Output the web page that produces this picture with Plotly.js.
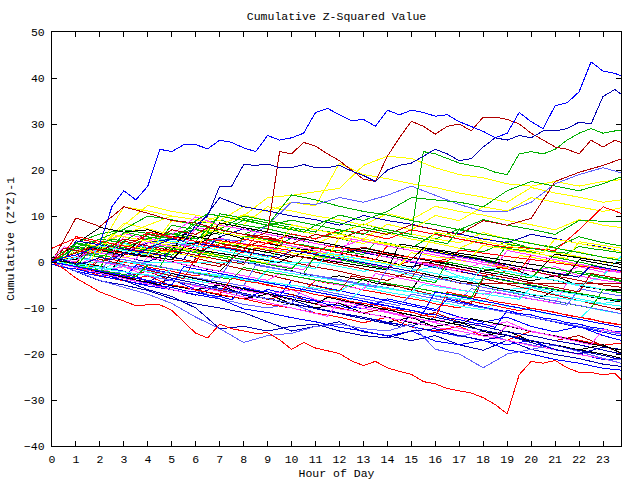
<!DOCTYPE html>
<html>
<head>
<meta charset="utf-8">
<script src="https://cdn.plot.ly/plotly-3.0.1.min.js"></script>
<style>
html,body{margin:0;padding:0;background:#fff}
#chart{width:640px;height:480px}
#chart .scatterlayer path.js-line{shape-rendering:crispEdges}
</style>
</head>
<body>
<div id="chart"></div>
<script>
// ---- x grids (hour of day) ----
const hoursHalf = [0,0.5,1,1.5,2,2.5,3,3.5,4,4.5,5,5.5,6,6.5,7,7.5,8,8.5,9,9.5,10,10.5,11,11.5,12,12.5,13,13.5,14,14.5,15,15.5,16,16.5,17,17.5,18,18.5,19,19.5,20,20.5,21,21.5,22,22.5,23,23.5,23.75];
const hoursFull = [0,1,2,3,4,5,6,7,8,9,10,11,12,13,14,15,16,17,18,19,20,21,22,23,23.75];
const xTickVals = [0,1,2,3,4,5,6,7,8,9,10,11,12,13,14,15,16,17,18,19,20,21,22,23];
const yTickVals = [-40,-30,-20,-10,0,10,20,30,40,50];

// ---- half-hour series: prominent lines ----
const L1 = [0,1,1.5,2.5,4,12,15.5,13.5,16.5,24.5, 24,25.5,25.5,24.6,26.5,26,24.8,24,27.5,26.5, 27,28,32.5,33.4,32,30.7,31,29.5,33,32, 33,32.5,31.7,32,30.5,29.5,28.4,27,28,32.5, 30.5,29,34,34.6,37,43.5,41.5,41, 40.5];
const L2 = [0,1,2,3,2.5,3.5,5,4.5,6,5.5, 7,6.5,6,7.5,7,6.5,6,5.5,6.5,24, 23.5,26,25.2,23.5,22,20,18,17.5,23,27, 30.6,29.5,27.8,29.5,30,28.5,31.5,31.5,31,30, 28,26.5,25,24.5,23.5,26.5,25,26.5, 26];
const L3 = [0,0.5,-0.5,0,1,0.5,2,1.5,3,4, 5,4.5,8,10,16.5,16.5,21.2,21,21.3,20.5, 20.5,21.2,20.5,20.5,21,19.8,18.8,17.5,20,21, 21.5,23,24.5,23.5,22,22.5,25,27,26.5,27.5, 27,28.5,28.5,29,30.4,30,36,37.5, 36.5];
const L4 = [0,1.5,3,2.5,4,5,4.5,6,5.5,5, 7,6.5,9,10.5,10,9.5,9,8.5,8,7.5, 7,6.5,8,7.5,7,6.5,6,7.5,7,6.5, 6,24,23.5,22.5,21.5,21,20.5,19.5,19,23.5, 24,23.5,24.5,26.5,28,29,28,28.5, 28.5];
const B1 = [0,-1.5,-3.5,-5,-6.5,-7.5,-8.5,-9.5,-9.3,-9.3, -10.5,-13,-15.5,-16.5,-13.5,-14.5,-15,-15.5,-15.4,-16.9, -19,-17.5,-18.7,-19.3,-19.9,-21.5,-22.5,-21.6,-23,-23.8, -24.4,-26,-26.5,-27.5,-28,-28.5,-29.5,-31,-33,-24.5, -21.6,-22,-21.4,-23,-24,-24,-24.5,-24.2, -25.6];

// ---- half-hour series: the mass ----
const P1 = [0,-0.6,-1,-1.4,1,0.6,0,-0.4,-1.1,-1.5, -2,-2.6,-3,-2.5,-3.1,-3.5,-4,-4.4,-5.1,-5.5, -6,-6.4,-4,-4.6,-5,-5.4,-6.1,-6.5,-7,-7.6, -8,-8.4,-9.1,-9.5,-10,-8.5,-9.1,-9.5,-10,-10.6, -10,-10.5,-11.1,-11.5,-12,-12.6,-13,-13.4, -13.7];
const P2 = [1,0.6,4.2,3.7,3.4,3.1,2.6,2.1,1.8,3.4, 3,2.5,2.2,1.9,1.4,0.9,5.6,5.3,4.8,4.3, 4,3.7,3.2,2.7,2.4,2.1,1.6,4.2,3.8,3.3, 3,2.7,2.2,1.7,1.4,1.1,0.6,0.1,3.8,3.5, 3,2.5,2.2,1.9,3.4,2.9,2.6,2.3, 2];
const P3 = [0,-0.6,-1.1,-1.6,-2.2,-2.8,-3.3,-0.8,-1.4,-2, -2.5,-3,-3.6,-4.2,-4.7,-5.2,-5.8,-6.4,-6.9,-7.4, -4,-4.6,-5.1,-5.6,-6.2,-6.8,-7.3,-7.8,-8.4,-9, -9.5,-10,-10.6,-8.1,-8.7,-9.3,-9.8,-10.3,-10.9,-11.5, -12,-12.5,-13.1,-13.7,-14.2,-14.7,-15.3,-15.9, -16.1];
const P4 = [0.5,3.3,2.9,2.4,2,1.5,1.1,0.6,4.2,3.7, 3.3,2.8,2.4,1.9,1.5,1,0.6,0.1,-0.3,-0.8, -1.2,-1.7,1.4,0.9,0.5,0,-0.4,-0.9,-1.3,0.6, 0.2,-0.3,-0.7,-1.2,-1.6,-2.1,-2.5,-3,-3.4,-3.9, 1,0.6,0.1,-0.3,-0.8,-1.2,-1.7,-2.1, -2.4];
const P5 = [0,-0.4,-1.1,-1.5,-1.9,-0.5,-1.1,-1.4,-2.1,-2.5, -3,-3.4,-4.1,-4.5,-2.5,-3.1,-3.5,-3.9,-4.6,-5, -5.4,-6.1,-6.5,-7,-7.4,-8.1,-5.5,-6,-6.6,-7, -7.4,-8.1,-8.5,-9,-9.6,-10,-10.4,-9,-9.6,-10, -10.4,-11.1,-11.5,-12,-12.4,-10,-10.6,-11, -11.3];
const P6 = [0,-0.3,-0.9,3.8,3.3,3.1,2.5,2.2,1.7,1.4, 3,2.7,2.1,1.8,1.3,1,0.5,0.2,-0.3,3.4, 3.1,2.5,2.2,1.7,1.4,0.9,0.6,0.1,-0.2,-0.7, 2,1.7,1.1,0.8,0.3,0,-0.5,-0.8,-1.3,1.4, 1.1,0.5,0.2,-0.3,-0.6,-1.1,-1.4,-1.9, -2];
const P7 = [1,0.4,0.1,-0.6,-0.9,-1.6,2,1.4,1.1,0.4, 0.1,-0.6,-0.9,-1.6,-2,0.5,-0.1,-0.4,-1.1,-1.5, -1.9,-2.6,-3,-3.4,-3,-3.6,-3.9,-4.6,-5,-5.4, -6.1,-2.5,-3.1,-3.4,-4.1,-4.5,-4.9,-5.6,-6,-6.4, -7.1,-7.5,-6,-6.6,-6.9,-7.6,-8,-8.4, -8.7];
const P8 = [0,-0.6,-1.2,-1.8,0.6,0,-0.6,-1.2,-1.8,-2.4, -3,-3.6,0.8,0.2,-0.4,-1,-1.6,-2.2,-2.8,-3.4, -4,-4.6,-5.2,-5.8,-6.4,-3,-3.6,-4.2,-4.8,-5.4, -6,-6.6,-7.2,-7.8,-8.4,-9,-3.6,-4.2,-4.8,-5.4, -6,-6.6,-7.2,-7.8,-8.4,-9,-9.6,-10.2, -10.5];
const P9 = [0,-0.5,-1.1,-1.7,-2.2,-2.7,-3.3,-3.9,-4.4,-3, -3.5,-4.1,-4.6,-5.2,-5.7,-6.3,-6.8,-7.4,-7.9,-8.5, -9,-9.6,-10.1,-10.7,-11.2,-11.8,-12.3,-12.9,-13.4,-14, -11.5,-12.1,-12.6,-13.2,-13.7,-14.3,-14.8,-15.4,-15.9,-16.5, -17,-17.6,-18.1,-18.7,-19.2,-19.8,-20.3,-20.9, -21.1];
const P10 = [0,-0.4,1.1,0.6,0.2,-0.3,-0.7,-1.2,-1.6,-2.1, -2.5,-3,-3.4,-3.9,-4.3,-4.8,-5.2,-0.7,-1.1,-1.6, -2,-2.5,-2.9,-3.4,-3.8,-4.3,-4.7,-5.2,-5.6,-6.1, -6.5,-7,-7.4,-7.9,-8.3,-5.8,-6.2,-6.7,-7.1,-7.6, -8,-8.5,-8.9,-9.4,-5.8,-6.3,-6.7,-7.2, -7.4];
const P11 = [0.5,0.2,-0.2,3,2.6,2.3,1.9,1.6,1.2,0.9, 0.5,0.2,-0.2,5,4.6,4.3,3.9,3.6,3.2,2.9, 2.5,2.2,1.8,3.5,3.1,2.8,2.4,2.1,1.7,1.4, 1,0.7,0.3,0,2.6,2.3,1.9,1.6,1.2,0.9, 0.5,0.2,-0.2,-0.5,-0.9,-1.2,-1.6,-1.9, -2.1];
const P12 = [0.5,0,-0.5,-1,-1.5,4,3.5,3,2.5,2, 1.5,3,2.5,2,1.5,1,0.5,0,-0.5,-1, -1.5,1,0.5,0,-0.5,-1,-1.5,-2,-2.5,-3, -3.5,-4,-4.5,0,-0.5,-1,-1.5,-2,-2.5,-3, -3.5,-1,-1.5,-2,-2.5,-3,-3.5,-4, -4.2];
const P13 = [-0.5,-1.2,-1.5,-2.2,-2.5,-3.2,-3.5,-4.2,-4.5,-5.2, -5.5,-6.2,-6.5,-7.2,-7.5,-8.2,-5.5,-6.2,-6.5,-7.2, -7.5,-8.2,-8.5,-9.2,-9.5,-10.2,-8.5,-9.2,-9.5,-10.2, -10.5,-11.2,-11.5,-12.2,-12.5,-13.2,-13.5,-14.2,-10.5,-11.2, -11.5,-12.2,-12.5,-13.2,-13.5,-14.2,-14.5,-15.2, -15.2];
const P14 = [0,-0.5,-1,0.5,0,-0.5,-1,-1.5,1,0.5, 0,-0.5,-1,-1.5,-2,-2.5,-3,-3.5,-4,-2.5, -3,-3.5,-4,-4.5,-5,-5.5,-6,-2.5,-3,-3.5, -4,-4.5,-5,-5.5,-6,-6.5,-7,-6.5,-7,-7.5, -8,-8.5,-9,-4.5,-5,-5.5,-6,-6.5, -6.7];
const P15 = [0.5,0.1,-0.3,-0.7,-1.1,-1.5,0.1,-0.3,-0.7,-1.1, -1.5,-1.9,-2.3,-2.7,-3.1,-3.5,-3.9,-4.3,-1.7,-2.1, -2.5,-2.9,-3.3,-3.7,-4.1,-4.5,-4.9,-5.3,-5.7,-6.1, -6.5,-4.9,-5.3,-5.7,-6.1,-6.5,-6.9,-7.3,-7.7,-8.1, -5.5,-5.9,-6.3,-6.7,-7.1,-7.5,-7.9,-8.3, -8.5];
const P16 = [0,-0.4,-0.8,-1.2,4.4,4,3.6,3.2,2.8,2.4, 2,1.6,1.2,0.8,4.4,4,3.6,3.2,2.8,2.4, 2,1.6,1.2,0.8,5.4,5,4.6,4.2,3.8,3.4, 3,2.6,2.2,1.8,1.4,1,3.6,3.2,2.8,2.4, 2,1.6,1.2,0.8,4.4,4,3.6,3.2, 3];
const P17 = [0,-0.6,-1.1,-1.7,-2.2,-2.8,-3.3,-3.9,-4.4,-5, -2.5,-3.1,-3.6,-4.2,-4.7,-5.3,-5.8,-6.4,-6.9,-7.5, -8,-8.6,-9.1,-7.7,-8.2,-8.8,-9.3,-9.9,-10.4,-11, -11.5,-12.1,-12.6,-13.2,-13.7,-12.3,-12.8,-13.4,-13.9,-14.5, -15,-15.6,-16.1,-16.7,-17.2,-17.8,-18.3,-18.9, -19.1];
const P18 = [0.5,0.1,4.6,4.2,3.7,3.3,2.8,2.4,1.9,1.5, 1,0.6,4.1,3.7,3.2,2.8,2.3,1.9,1.4,1, 2.5,2.1,1.6,1.2,0.7,0.3,-0.2,-0.6,-1.1,-1.5, -2,2.6,2.1,1.7,1.2,0.8,0.3,-0.1,-0.6,-1, -1.5,-1.9,-2.4,-2.8,-3.3,-0.8,-1.2,-1.7, -1.9];
const P19 = [0,-0.5,-1,-1.5,-2,-2.5,-3,-2.5,-3,-3.5, -4,-4.5,-5,-5.5,-6,-6.5,-7,-7.5,-8,-8.5, -9,-5.5,-6,-6.5,-7,-7.5,-8,-8.5,-9,-9.5, -7,-7.5,-8,-8.5,-9,-9.5,-10,-10.5,-11,-11.5, -12,-12.5,-13,-13.5,-14,-14.5,-15,-15.5, -15.7];
const P20 = [0,-0.6,-1,-1.6,-2,-2.4,-3.1,-3.5,-4,-4.6, -5,-5.4,-6.1,-6.5,-7,-3.5,-4.1,-4.5,-4.9,-5.6, -6,-6.4,-7.1,-7.5,-7.9,-8.6,-9,-9.4,-10.1,-10.5, -10.9,-11.6,-12,-6.5,-7.1,-7.5,-7.9,-8.6,-9,-9.4, -10.1,-10.5,-10.9,-11.6,-12,-12.4,-13.1,-13.5, -13.7];
const P21 = [0,-0.5,-0.9,-1.4,-1.8,-2.3,-2.7,-3.2,-0.6,-1.1, -1.5,-2,-2.4,-2.9,-3.3,-3.8,-1.2,-1.7,-2.1,-2.6, -3,-3.5,-3.9,-4.4,-4.8,-5.3,-3.7,-4.2,-4.6,-5.1, -5.5,-6,-6.4,-6.9,-7.3,-7.8,-3.2,-3.7,-4.1,-4.6, -5,-5.5,-5.9,-6.4,-6.8,-7.3,-7.7,-8.2, -8.4];
const P22 = [0,-0.6,-1.2,-1.8,-2.4,-3,-3.6,-4.2,-4.8,-5.4, -6,-6.6,-5.2,-5.8,-6.4,-7,-7.6,-8.2,-8.8,-9.4, -10,-10.6,-11.2,-11.8,-8.4,-9,-9.6,-10.2,-10.8,-11.4, -12,-12.6,-13.2,-13.8,-14.4,-15,-15.6,-16.2,-13.8,-14.4, -15,-15.6,-16.2,-16.8,-17.4,-18,-14.6,-15.2, -15.5];
const P23 = [0,-0.4,-0.7,-1.1,-1.4,-1.8,-2.1,-2.5,-2.8,-3.2, -1.5,-1.9,-2.2,-2.6,-2.9,-3.3,-3.6,-4,-4.3,-4.7, -5,-5.4,-5.7,-6.1,-6.4,-4.8,-5.1,-5.5,-5.8,-6.2, -6.5,-6.9,-7.2,-7.6,-7.9,-8.3,-8.6,-6,-6.3,-6.7, -7,-7.4,-7.7,-8.1,-8.4,-8.8,-9.1,-9.5, -9.6];
const P24 = [0.5,0.1,-0.3,3.3,2.9,2.5,2.1,1.7,1.3,0.9, 0.5,3.1,2.7,2.3,1.9,1.5,1.1,0.7,0.3,-0.1, 1.5,1.1,0.7,0.3,-0.1,-0.5,-0.9,-1.3,-1.7,3.9, 3.5,3.1,2.7,2.3,1.9,1.5,1.1,0.7,0.3,-0.1, -0.5,-0.9,1.7,1.3,0.9,0.5,0.1,-0.3, -0.5];
const Q1 = [0,1.5,4,3.5,3,2.5,6.5,6,5.5,5, 8,7.5,7,6.5,10.5,10,9.5,9,8.5,8, 7.5,7,6.5,9,8.5,8,7.5,7,6.5,6, 5.5,5,4.5,4,7,6.5,6,5.5,5,4.5, 4,3.5,3,2.5,2,1.5,1,0.5, 0.3];
const Q2 = [0,2,5.5,5,4.5,4,3.5,3,6.5,6, 5.5,5,4.5,4,3.5,3,2.5,5.5,5,4.5, 4,3.5,3,2.5,2,1.5,1,0.5,3.5,3, 2.5,2,1.5,1,0.5,0,-0.5,-1,-1.5,-2, 1.5,1,0.5,0,-0.5,-1,-1.5,-2, -2.2];
const Q3 = [0,0.5,0,3,2.5,2,5.5,5,4.5,4, 3.5,3,7.5,7,6.5,6,5.5,5,4.5,4, 3.5,3,2.5,2,1.5,5,4.5,4,3.5,3, 2.5,2,1.5,1,0.5,0,-0.5,-1,2.5,2, 1.5,1,0.5,0,-0.5,-1,-1.5,-2, -2.2];
const Q4 = [0,1,0.5,3,2.5,2,1.5,4,3.5,3, 2.5,6,5.5,5,8.5,8,7.5,7,6.5,6, 5.5,5,4.5,4,3.5,3,2.5,2,1.5,1, 0.5,3,2.5,2,1.5,1,0.5,0,-0.5,-1, -1.5,-2,-2.5,-3,0.5,0,-0.5,-1, -1.2];
const Q5 = [0,0.5,3,2.5,2,6,5.5,5,4.5,4, 3.5,3,2.5,7,6.5,6,5.5,5,4.5,4, 8,7.5,7,6.5,6,5.5,5,4.5,4,3.5, 3,2.5,6.5,6,5.5,5,4.5,4,3.5,3, 2.5,2,5,4.5,4,3.5,3,2.5, 2.3];
const Q6 = [0,3,2.5,2,1.5,1,4.5,4,3.5,3, 2.5,2,1.5,1,0.5,0,-0.5,3,2.5,2, 1.5,1,0.5,0,-0.5,-1,-1.5,-2,-2.5,-3, -3.5,0,-0.5,-1,-1.5,-2,-2.5,-3,-3.5,-4, -4.5,-5,-5.5,-6,-6.5,-2.5,-3,-3.5, -3.7];
const Q7 = [0,0.5,1,0.5,3.5,3,2.5,2,1.5,5, 4.5,4,3.5,3,2.5,2,1.5,1,0.5,0, -0.5,-1,-1.5,2,1.5,1,0.5,0,-0.5,-1, -1.5,-2,-2.5,-3,-3.5,-4,-1,-1.5,-2,-2.5, -3,-3.5,-4,-4.5,-5,-5.5,-6,-6.5, -6.7];
const Q8 = [0,-0.5,-1,2,1.5,1,0.5,0,-0.5,-1, 3,2.5,2,1.5,1,0.5,0,-0.5,-1,-1.5, -2,-2.5,1.5,1,0.5,0,-0.5,-1,-1.5,-2, -2.5,-3,-3.5,-4,-4.5,-5,-5.5,-6,-6.5,-7, -7.5,-8,-8.5,-9,-9.5,-10,-6,-6.5, -6.7];
const Q9 = [0,-0.5,-1,-1.5,-2,1,0.5,0,-0.5,-1, -1.5,-2,-2.5,-3,-3.5,0.5,0,-0.5,-1,-1.5, -2,-2.5,-3,-3.5,-4,-4.5,-5,-5.5,-1.5,-2, -2.5,-3,-3.5,-4,-4.5,-5,-5.5,-6,-6.5,-7, -7.5,-8,-8.5,-9,-9.5,-10,-10.5,-11, -11.2];
const Q10 = [0,-0.5,-1,-1.5,-2,-2.5,-3,-3.5,-4,-4.5, -5,-1,-1.5,-2,-2.5,-3,-3.5,-4,-4.5,-5, -5.5,-6,-6.5,-7,-7.5,-8,-8.5,-9,-9.5,-10, -10.5,-11,-6.5,-7,-7.5,-8,-8.5,-9,-9.5,-10, -10.5,-11,-11.5,-12,-12.5,-13,-13.5,-14, -14.2];

// ---- hourly series ----
const B2 = [0,-2,-4,-5.5,-7,-9,-12,-14.5,-17.5,-16,-15.5,-14,-13.5,-14.5,-15,-13.5,-19,-20,-23,-20,-19,-18,-19.5,-21,-22];
const B3 = [0,-1,-2.5,-4,-6,-7.5,-10,-14.5,-14,-15,-14,-13.5,-15,-16,-16.5,-15,-14.5,-16,-17,-16,-17.5,-19,-20,-18.5,-19];
const U1 = [0,2,1,3.2,5,4.1,6,8.2,10,14,14.5,15.2,16,21,23,22.5,20.5,19,18.3,17,16.5,17.5,16.5,17.5,17.9];
const U2 = [0,1.1,3,8,12.3,11,10.2,9,12.1,11,13,12.2,21.5,19,18.1,17,16.2,15,14.1,13,16.2,15,14.1,13,13.5];
const U3 = [0,2,1.1,3,5.2,6,7.1,6,9.2,8,14.6,13.5,12.1,11,10.2,9,8.1,7,9.2,8,7.1,6,9,8.8,8.8];
const U4 = [0,1,2,1.5,3,4,3.5,5,4.5,8,13,12.5,14,13,14.5,16.5,14.5,12.5,11,11,13,17,19,20.5,19.4];
const U5 = [0,1.1,3,2,4.2,5,7.1,14,12,11.1,10,9.2,8,10.1,9,8.2,7,6.1,5,4.2,6,5.1,4,3.2,2.3];
const U6 = [0,3.2,5,7.1,10,9.2,8,7.1,10,9,8.1,7,6.2,5,4.1,3,6.2,5,4.1,3,2.2,1,0,-1.1,-2];
const U7 = [0,2.1,4,6,8.1,10,9.2,8,7.1,6,5.2,4,6.1,5,8.2,7,10.1,9,12,11.1,14,13,12.1,11,11.8];
const U8 = [0,9.6,7.7,12,10.6,9,8.5,7,6,5.5,4,3,2,3.2,2,1,0,1.5,0.5,-1,-2,-3,-4,-5,-5.5];
const U9 = [0,4,7.5,6.5,7,5.5,5,6.5,5,4,3,2.5,1.5,3,2,1,0,-1,-2,-1,-3,-4,-5,-6,-6.2];
const U10 = [0,2,4,3.1,5,6.2,5,7.1,6,8,9.1,8,10.2,9,11,14,13.5,13,12,15.5,17.5,16.5,15.5,17,18.5];
const U11 = [0,1,0,2,1.2,3,2.1,4,3,5.2,4,6,5.1,7,6,8.1,7,6,9,8,9.5,17.5,19.5,21,22.4];
const U12 = [0,1.1,2.5,1.5,3,2.2,4,3.1,5,4,6.1,5,7,6.2,5,7,6,5,4,3.2,3,2.5,7,12,10.6];
const U13 = [0,0,0,0,0,0,0,0,0,0,0,0,-1,-2,-1.5,-3,-4,-3,-5,-6,-5.5,-7,-8,-9,-8.5];
const U14 = [0,1,3,2,4.5,6,9.8,8,7.1,6,5.2,4,3.1,5,4,3,2.1,1,0,-1.1,-2,-1,-3,-4,-4.5];
const M2 = [1,3.5,2.1,4.2,3,2.3,5.5,4.1,3.2,2,5.3,4,3.1,2.2,1,0.2,-1,1.5,0.3,-1.2,-2,-3.1,-2,-3.3,-4];
const M3 = [0,-1.2,-3,-4.1,-5,-3.8,-6,-7.2,-8,-6,-7.1,-8.3,-9,-10.2,-8,-9.1,-10.3,-12,-13.1,-12,-14,-15.2,-14,-16,-17];
const M6 = [0,2,3.2,8.5,7.2,6,5.1,7.5,8.2,12,11.1,10,9.2,8,10.5,9.2,12.1,11,10.2,9,8.1,7,9.2,8,7.5];
const M8 = [0,2.2,4,3.1,2,1.1,0,-1,2.5,1.2,0,-1.1,-2,-3.2,-4,-2,-3.1,-4.6,-4.6,-4.6,-4.6,-4.6,-4.6,-4.6,-4.6];
const M9 = [0,-2,-4.1,-5,-6.2,-8,-9.1,-10,-11,-13,-15,-14,-13,-15.2,-16,-17.1,-16,-18,-19.2,-17,-19,-20.1,-21,-22.2,-22.7];
const M10 = [0,-1,-3.1,-2,-4.2,-5,-6.1,-8,-9.2,-10,-9,-11.1,-12,-13.2,-12,-14.1,-15,-16.2,-15,-17.1,-18,-19.1,-20,-21.2,-21.3];
const M11 = [3,5.2,4,3.1,6.5,5.2,4,3.1,2,4.2,3,2.1,1,0,-1.1,0.2,-1,-2.1,-3,-2,-3.1,-4,-5.1,-6,-6];
const M12 = [0,4.2,6.1,7,6.2,5,8.3,9.1,8,7.2,6,5.1,6.5,8.2,7,6.1,5,7.2,6,5.1,4,3.2,5.5,4.2,3.5];
const M14 = [0,-1,-2.1,-1,-3.1,-4,-5.2,-6,-5,-7.1,-6,-8.2,-9,-10.1,-11,-12.2,-13,-12,-14.1,-13,-15.2,-16,-17.1,-18,-19.8];
const M16 = [0,1,3.5,12,11.1,10,9.2,8,10.3,9,8.1,7,6.2,8.3,7,6.1,5,4.2,6.4,5,4.1,3,2.2,1,0.8];
const M17 = [0,-1.1,-2,-3.2,-4,-5.1,-6,-7.2,-8,-7,-9.1,-10,-11.2,-12,-13.1,-12,-14.2,-15,-16.1,-15,-17.2,-18,-19.1,-20,-20.9];
const M19 = [0,3.2,2,1.1,0,2.3,1,5.5,7.2,6,5.1,4,3.2,2,1.1,0,-1.2,-2,-3.1,-4,-5.2,-6,-7.1,-8,-8.2];
const M21 = [0,-1.2,-3,-4.1,-3,-5.2,-6,-7.1,-8,-9.2,-10,-11.1,-12,-13.2,-12,-14.1,-15,-14,-16.1,-17,-15,-16.2,-17,-18.1,-17.6];
const M22 = [0,2.2,5,4.1,3,2.2,4.5,10,9.1,8,7.2,6,5.1,4,6.3,5,4.1,3,2.2,4.5,3,2.1,1,0.1,-0.5];
const M23 = [1,0,-1.1,-2,-4.2,-5,-6.1,-5,-7.2,-8,-9.1,-10,-11.2,-12,-13.1,-14,-15.2,-16,-17.1,-18,-17,-19.1,-20,-21.2,-21];
const M27 = [0,2.1,3.2,2,1.1,3.5,4.2,5.3,3,2.1,1,3.2,2,1.1,0,-1.1,0.2,-1,-2.1,-3,-4.1,-3,-5.2,-6,-6];
const M28 = [0,-1.1,-2,-3.2,-2,-4.1,-5,-6.2,-7,-8.1,-7,-9.2,-10,-11.1,-10,-12.2,-11,-13.1,-14,-15.2,-16,-17.1,-16,-18.2,-19.8];
const M29 = [0,-1,-2.2,-3,-4.1,-6,-7.2,-5,-6.1,-7,-8.2,-10,-11.1,-12,-13.2,-14,-12,-13.1,-14,-15.2,-16,-17.1,-18,-19.2,-20];
const M32 = [0,2.1,4,6.2,5,4.1,3,5.2,4,3.1,2,1.2,0,2.3,1,0.1,-1,-2.1,0,-1.1,-2,-3.1,-1,-2.2,-2];
const M33 = [0,1,2.1,4,3.2,5,4.1,3,2.2,1,3.3,2,1.1,0,-1.1,-2,-1,-3.1,-4,-2,-3.1,-4,-5.2,-3,1.2];
const M35 = [0,-1.1,-2,-3.1,-4,-5.2,-6,-5,-7.1,-8,-9.2,-10,-9,-11.1,-12,-13.2,-14,-13,-15.1,-16,-17.2,-18,-19.1,-18,-19.8];
const M36 = [0,-2,-3.1,-4,-5.2,-6,-7.1,-8,-10.2,-11,-12.1,-13,-14.2,-15,-16.1,-15,-17.2,-18,-17,-19.1,-20,-21.2,-22,-23.1,-23.5];
const M37 = [0,3,2.1,1,2.2,9,8.1,10,9.2,8,7.1,6,5.2,4,6.3,5,4.1,3,5.2,4,3.1,2,1.2,0,-0.5];
const M38 = [0,-1,-2.1,-1,-2.2,-3,-4.1,-5,-6.2,-7,-8.1,-9,-10.2,-11,-12.1,-13,-14.2,-15,-16.1,-17,-18.2,-19,-20.1,-21,-22];

// ---- styles ----
const C = {red:'#ff0000', green:'#00b000', blue:'#0000ff', magenta:'#ff40ff', cyan:'#30ffff',
           yellow:'#ffff00', black:'#000000', darkred:'#b00000', darkblue:'#0000b0', slate:'#6060ff'};

const hourlySeries = [
  [M2,'green'],[M3,'blue'],[M6,'yellow'],[M8,'darkred'],[M9,'darkblue'],[M10,'slate'],[M11,'red'],[M12,'green'],
  [M14,'magenta'],[M16,'yellow'],[M17,'black'],[M19,'darkblue'],[M21,'red'],[M22,'green'],[M23,'blue'],
  [M27,'black'],[M28,'darkred'],[M29,'darkblue'],[M32,'magenta'],[M33,'cyan'],[M35,'black'],[M36,'blue'],
  [M37,'yellow'],[M38,'magenta'],
  [U1,'yellow'],[U2,'yellow'],[U3,'green'],[U4,'slate'],[U5,'darkblue'],[U6,'green'],[U7,'yellow'],[U8,'darkred'],[U9,'black'],
  [U10,'green'],[U11,'darkred'],[U12,'red'],[U13,'cyan'],[U14,'magenta'],[B2,'slate'],[B3,'darkblue']
];
const halfSeries = [
  [P1,'red'],[P2,'green'],[P3,'blue'],[P4,'magenta'],[P5,'cyan'],[P6,'yellow'],[P7,'black'],[P8,'darkred'],
  [P9,'darkblue'],[P10,'slate'],[P11,'red'],[P12,'green'],[P13,'blue'],[P14,'magenta'],[P15,'cyan'],[P16,'yellow'],
  [P17,'black'],[P18,'darkblue'],[P19,'slate'],[P20,'red'],[P21,'green'],[P22,'magenta'],[P23,'cyan'],[P24,'black'],
  [Q1,'green'],[Q2,'red'],[Q3,'magenta'],[Q4,'black'],[Q5,'yellow'],[Q6,'darkred'],[Q7,'cyan'],[Q8,'green'],
  [Q9,'slate'],[Q10,'blue'],
  [L4,'green'],[L2,'darkred'],[L3,'darkblue'],[L1,'blue'],[B1,'red']
];

const traces = [];
hourlySeries.forEach(([y,c]) => traces.push({x:hoursFull, y:y, type:'scatter', mode:'lines',
  line:{color:C[c], width:1}, hoverinfo:'skip', showlegend:false}));
halfSeries.forEach(([y,c]) => traces.push({x:hoursHalf, y:y, type:'scatter', mode:'lines',
  line:{color:C[c], width:1}, hoverinfo:'skip', showlegend:false}));

const FONT = {family:'"Liberation Mono", "DejaVu Sans Mono", monospace', size:11.5, color:'#000'};
const axisCommon = {showgrid:false, zeroline:false, showline:true, linecolor:'#000', linewidth:1,
  mirror:'ticks', ticks:'inside', ticklen:5, tickwidth:1, tickcolor:'#000', tickfont:FONT, fixedrange:true};

const layout = {
  width:640, height:480, paper_bgcolor:'#fff', plot_bgcolor:'#fff', font:FONT,
  margin:{l:52, r:19, t:32, b:34, pad:0},
  title:{text:'Cumulative Z-Squared Value', font:FONT, x:0.5, xref:'paper', y:1-16/480, yref:'container', yanchor:'middle'},
  xaxis:Object.assign({}, axisCommon, {range:[0,23.75], tickmode:'array', tickvals:xTickVals,
    title:{text:'Hour of Day', font:FONT, standoff:4}, ticklabelstandoff:2}),
  yaxis:Object.assign({}, axisCommon, {range:[-40,50], tickmode:'array', tickvals:yTickVals,
    title:{text:'Cumulative (Z*Z)-1', font:FONT, standoff:6}, ticklabelstandoff:4}),
  showlegend:false
};

Plotly.newPlot('chart', traces, layout, {staticPlot:true, displayModeBar:false});
</script>
</body>
</html>
